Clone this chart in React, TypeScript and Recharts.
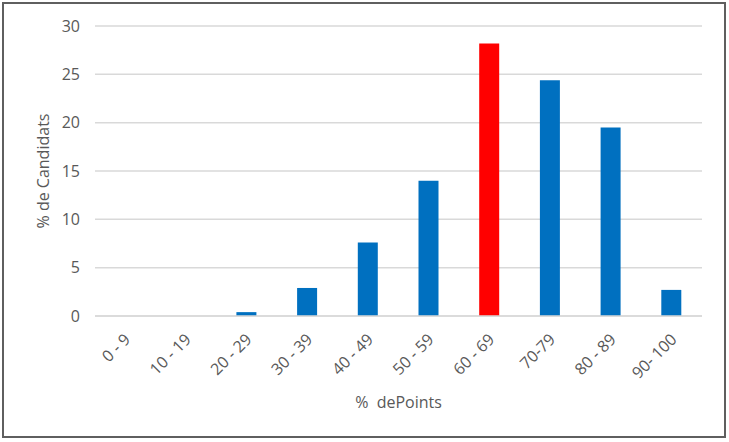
import { Bar, BarChart, CartesianGrid, Cell, XAxis, YAxis } from "recharts"

const categories = ["0 - 9", "10 - 19", "20 - 29", "30 - 39", "40 - 49", "50 - 59", "60 - 69", "70-79", "80 - 89", "90- 100"]
const percentages = [0, 0, 0.4, 2.9, 7.6, 14, 28.2, 24.4, 19.5, 2.7]
const yTicks = [0, 5, 10, 15, 20, 25, 30]
const highlightIndex = 6

const data = categories.map((range, i) => ({ range, value: percentages[i] }))

const FONT = "'Open Sans', sans-serif"
const TEXT = "#595959"

function RotatedTick({ x, y, payload }: any) {
  return (
    <g transform={`translate(${x - 11},${y + 8})`}>
      <text
        x={0}
        y={0}
        dx={6}
        dy={18}
        textAnchor="end"
        transform="rotate(-45)"
        fill={TEXT}
        fontSize={16}
        fontFamily={FONT}
      >
        {payload.value}
      </text>
    </g>
  )
}

export default function App() {
  return (
    <div style={{ position: "absolute", left: 0, top: 0, width: 729, height: 442, background: "#fff" }}>
      <div
        style={{
          position: "absolute",
          left: 2,
          top: 2,
          width: 724,
          height: 436,
          border: "2px solid #5f5f5f",
          boxSizing: "border-box",
        }}
      />
      <BarChart
        width={729}
        height={442}
        data={data}
        margin={{ top: 26, right: 27, bottom: 0, left: 0 }}
        barSize={20}
      >
        <CartesianGrid vertical={false} stroke="#d9d9d9" strokeWidth={1.5} />
        <XAxis
          dataKey="range"
          height={126}
          interval={0}
          axisLine={{ stroke: "#d9d9d9", strokeWidth: 1.5 }}
          tickLine={false}
          tick={<RotatedTick />}
          label={{
            value: "%\u00a0\u00a0dePoints",
            position: "insideBottom",
            offset: 34,
            fill: TEXT,
            fontSize: 16,
            fontFamily: FONT,
          }}
        />
        <YAxis
          width={95}
          domain={[0, 30]}
          ticks={yTicks}
          axisLine={false}
          tickLine={false}
          tickSize={0}
          tickMargin={15}
          tick={{ fill: TEXT, fontSize: 16, fontFamily: FONT }}
          label={{
            value: "% de Candidats",
            angle: -90,
            position: "center",
            dx: -4,
            fill: TEXT,
            fontSize: 16,
            fontFamily: FONT,
          }}
        />
        <Bar dataKey="value" isAnimationActive={false}>
          {data.map((_, i) => (
            <Cell key={i} fill={i === highlightIndex ? "#ff0000" : "#0070c0"} />
          ))}
        </Bar>
      </BarChart>
    </div>
  )
}
